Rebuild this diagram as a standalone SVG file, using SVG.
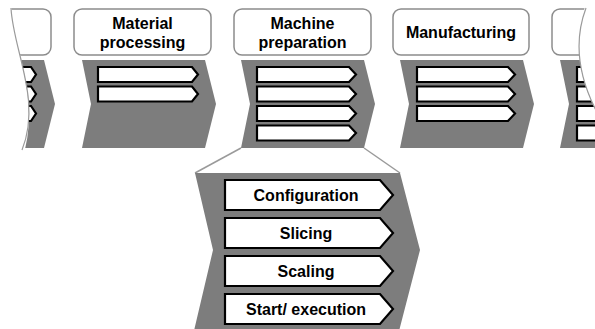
<svg xmlns="http://www.w3.org/2000/svg" width="595" height="329" viewBox="0 0 595 329">
  <style>
    .box { fill: #ffffff; stroke: #8c8c8c; stroke-width: 1.5; }
    .chev { fill: #7d7d7d; stroke: none; }
    .arr { fill: #ffffff; stroke: #000000; stroke-width: 2.2; stroke-linejoin: miter; }
    .lbl { font-family: "Liberation Sans", Arial, sans-serif; font-weight: bold; font-size: 16px; fill: #000000; text-anchor: middle; }
    .conn { stroke: #9a9a9a; stroke-width: 1.5; fill: none; }
    .tear { stroke: #9a9a9a; stroke-width: 1.2; fill: none; }
  </style>
  <defs>
    <clipPath id="clipL">
      <path d="M11,0 C13,50 42,100 22,160 L70,160 L70,0 Z"/>
    </clipPath>
    <clipPath id="clipR">
      <path d="M540,0 L587,0 C574,40 576,75 600,118 L600,160 L540,160 Z"/>
    </clipPath>
  </defs>
  <rect width="595" height="329" fill="#ffffff"/>

  <g id="node-left-partial">
    <g clip-path="url(#clipL)">
      <rect class="box" x="-87" y="9" width="138" height="46" rx="8"/>
      <path class="chev" d="M-79,60 L44,60 L55,104 L44,148 L-79,148 L-70,104 Z"/>
      <path class="arr" d="M-63,67 L31,67 L36,74.5 L31,82 L-63,82 Z"/>
      <path class="arr" d="M-63,86.5 L31,86.5 L36,94 L31,101.5 L-63,101.5 Z"/>
      <path class="arr" d="M-63,106 L31,106 L36,113.5 L31,121 L-63,121 Z"/>
    </g>
    <path class="tear" d="M11,8 C13,50 42,100 22,150"/>
  </g>

  <g id="node-material-processing">
    <rect class="box" x="74" y="9" width="137" height="46" rx="8"/>
    <text class="lbl" x="142.5" y="28.5">Material</text>
    <text class="lbl" x="142.5" y="47.5">processing</text>
    <path class="chev" d="M82,60 L205,60 L216,104 L205,148 L82,148 L91,104 Z"/>
    <path class="arr" d="M98,67 L192,67 L198,74.5 L192,82 L98,82 Z"/>
    <path class="arr" d="M98,86.5 L192,86.5 L198,94 L192,101.5 L98,101.5 Z"/>
  </g>

  <g id="node-machine-preparation">
    <rect class="box" x="234" y="9" width="137" height="46" rx="8"/>
    <text class="lbl" x="302.5" y="28.5">Machine</text>
    <text class="lbl" x="302.5" y="47.5">preparation</text>
    <path class="chev" d="M241,60 L364,60 L375,104 L364,148 L241,148 L250,104 Z"/>
    <path class="arr" d="M257,67 L349,67 L356,74.5 L349,82 L257,82 Z"/>
    <path class="arr" d="M257,86.5 L349,86.5 L356,94 L349,101.5 L257,101.5 Z"/>
    <path class="arr" d="M257,106 L349,106 L356,113.5 L349,121 L257,121 Z"/>
    <path class="arr" d="M257,125.5 L349,125.5 L356,133 L349,140.5 L257,140.5 Z"/>
  </g>

  <g id="node-manufacturing">
    <rect class="box" x="393" y="9" width="136" height="46" rx="8"/>
    <text class="lbl" x="461" y="38">Manufacturing</text>
    <path class="chev" d="M400,60 L523,60 L534,104 L523,148 L400,148 L409,104 Z"/>
    <path class="arr" d="M417,67 L508,67 L515,74.5 L508,82 L417,82 Z"/>
    <path class="arr" d="M417,86.5 L508,86.5 L515,94 L508,101.5 L417,101.5 Z"/>
    <path class="arr" d="M417,106 L508,106 L515,113.5 L508,121 L417,121 Z"/>
  </g>

  <g id="node-right-partial">
    <g clip-path="url(#clipR)">
      <rect class="box" x="552" y="9" width="137" height="46" rx="8"/>
      <path class="chev" d="M560,60 L683,60 L694,104 L683,148 L560,148 L569,104 Z"/>
      <path class="arr" d="M577,67 L670,67 L677,74.5 L670,82 L577,82 Z"/>
      <path class="arr" d="M577,86.5 L670,86.5 L677,94 L670,101.5 L577,101.5 Z"/>
      <path class="arr" d="M577,106 L670,106 L677,113.5 L670,121 L577,121 Z"/>
      <path class="arr" d="M577,125.5 L670,125.5 L677,133 L670,140.5 L577,140.5 Z"/>
    </g>
    <path class="tear" d="M586,8 C574,40 576,75 600,118"/>
  </g>

  <g id="connectors">
    <line class="conn" x1="241" y1="148" x2="195" y2="173"/>
    <line class="conn" x1="364" y1="148" x2="400" y2="173"/>
  </g>

  <g id="node-machine-preparation-detail">
    <path class="chev" d="M195,173 L400,173 L420,250 L398,335 L193,335 L213,250 Z"/>
    <path class="arr" d="M225,180 L380,180 L393,195 L380,210 L225,210 Z"/>
    <text class="lbl" x="306" y="200.7">Configuration</text>
    <path class="arr" d="M225,218 L380,218 L393,233 L380,248 L225,248 Z"/>
    <text class="lbl" x="306" y="238.7">Slicing</text>
    <path class="arr" d="M225,256 L380,256 L393,271 L380,286 L225,286 Z"/>
    <text class="lbl" x="306" y="276.7">Scaling</text>
    <path class="arr" d="M225,294 L380,294 L393,309 L380,324 L225,324 Z"/>
    <text class="lbl" x="306" y="314.7">Start/ execution</text>
  </g>
</svg>
